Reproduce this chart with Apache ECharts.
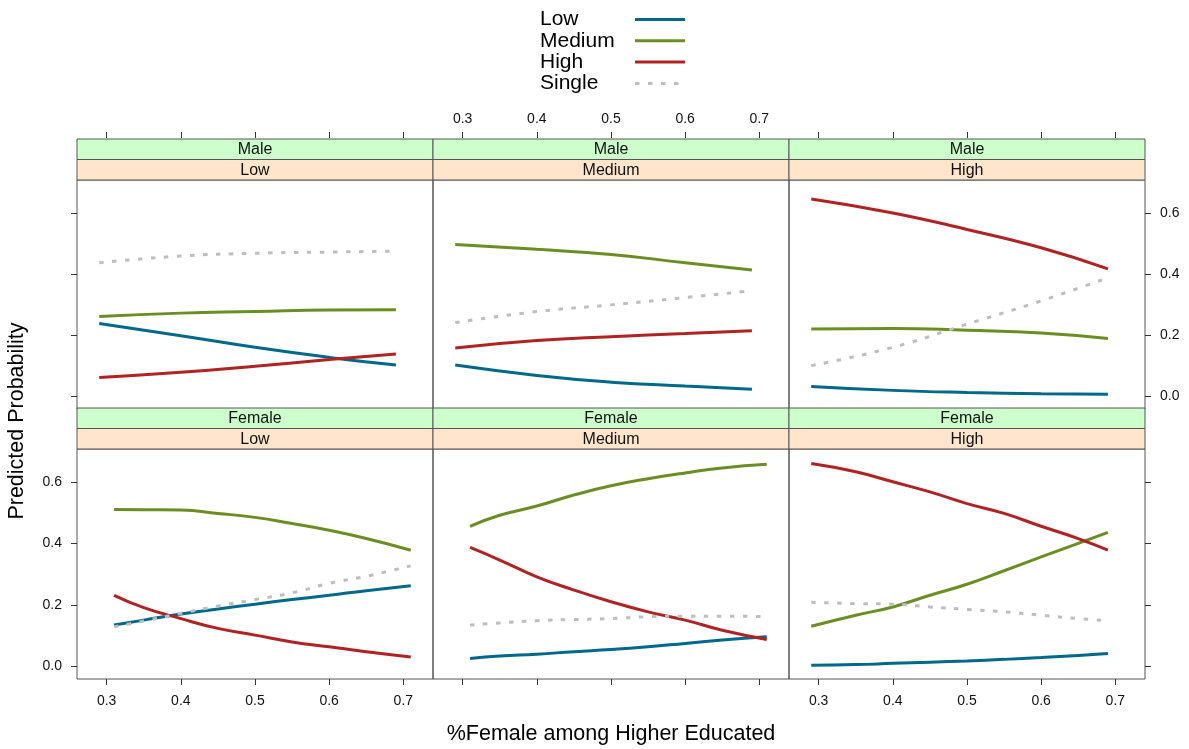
<!DOCTYPE html>
<html>
<head>
<meta charset="utf-8">
<title>Predicted Probability</title>
<script src="https://cdn.jsdelivr.net/npm/echarts@6/dist/echarts.min.js"></script>
<style>
  html, body { margin: 0; padding: 0; background: #fff; }
  #chart { width: 1189px; height: 749px; }
</style>
</head>
<body>
<div id="chart"></div>
<script>
// x positions (%Female among Higher Educated) where values were read
const xTopRow = [0.29, 0.4, 0.5, 0.6, 0.69]
const xFemaleLowMed = [0.31, 0.35, 0.4, 0.45, 0.5, 0.55, 0.6, 0.65, 0.71]
const xFemaleHigh = [0.29, 0.35, 0.4, 0.45, 0.5, 0.55, 0.6, 0.65, 0.69]

const seriesNames = ['Low', 'Medium', 'High', 'Single']
const xTicks = [0.3, 0.4, 0.5, 0.6, 0.7]
const yTicks = [0.0, 0.2, 0.4, 0.6]

// Male / Low
const maleLowLow = [0.238, 0.198, 0.160, 0.127, 0.102]
const maleLowMedium = [0.261, 0.272, 0.277, 0.282, 0.283]
const maleLowHigh = [0.061, 0.078, 0.098, 0.120, 0.138]
const maleLowSingle = [0.437, 0.459, 0.468, 0.472, 0.475]
// Male / Medium
const maleMedLow = [0.102, 0.068, 0.046, 0.033, 0.023]
const maleMedMedium = [0.497, 0.481, 0.464, 0.437, 0.413]
const maleMedHigh = [0.158, 0.182, 0.195, 0.205, 0.214]
const maleMedSingle = [0.241, 0.277, 0.299, 0.323, 0.345]
// Male / High
const maleHighLow = [0.032, 0.019, 0.012, 0.008, 0.006]
const maleHighMedium = [0.220, 0.222, 0.216, 0.207, 0.189]
const maleHighHigh = [0.646, 0.600, 0.546, 0.486, 0.417]
const maleHighSingle = [0.100, 0.160, 0.236, 0.312, 0.388]
// Female / Low
const femLowLow = [0.134, 0.150, 0.170, 0.186, 0.202, 0.217, 0.231, 0.246, 0.262]
const femLowMedium = [0.511, 0.510, 0.509, 0.498, 0.485, 0.465, 0.443, 0.416, 0.378]
const femLowHigh = [0.231, 0.191, 0.155, 0.123, 0.101, 0.079, 0.063, 0.047, 0.030]
const femLowSingle = [0.128, 0.147, 0.172, 0.196, 0.217, 0.239, 0.270, 0.293, 0.327]
// Female / Medium
const femMedLow = [0.025, 0.033, 0.039, 0.047, 0.054, 0.063, 0.074, 0.085, 0.096]
const femMedMedium = [0.456, 0.492, 0.522, 0.558, 0.588, 0.611, 0.630, 0.646, 0.658]
const femMedHigh = [0.387, 0.346, 0.291, 0.248, 0.210, 0.177, 0.150, 0.117, 0.087]
const femMedSingle = [0.134, 0.141, 0.148, 0.152, 0.155, 0.161, 0.163, 0.163, 0.161]
// Female / High
const femHighLow = [0.003, 0.005, 0.009, 0.013, 0.017, 0.022, 0.028, 0.035, 0.041]
const femHighMedium = [0.130, 0.166, 0.193, 0.231, 0.267, 0.311, 0.356, 0.400, 0.436]
const femHighHigh = [0.661, 0.634, 0.601, 0.568, 0.530, 0.498, 0.456, 0.416, 0.378]
const femHighSingle = [0.208, 0.204, 0.202, 0.193, 0.185, 0.177, 0.166, 0.155, 0.148]

const panels = [
  { gender: 'Male', edu: 'Low', row: 0, col: 0, x: xTopRow, ys: [maleLowLow, maleLowMedium, maleLowHigh, maleLowSingle] },
  { gender: 'Male', edu: 'Medium', row: 0, col: 1, x: xTopRow, ys: [maleMedLow, maleMedMedium, maleMedHigh, maleMedSingle] },
  { gender: 'Male', edu: 'High', row: 0, col: 2, x: xTopRow, ys: [maleHighLow, maleHighMedium, maleHighHigh, maleHighSingle] },
  { gender: 'Female', edu: 'Low', row: 1, col: 0, x: xFemaleLowMed, ys: [femLowLow, femLowMedium, femLowHigh, femLowSingle] },
  { gender: 'Female', edu: 'Medium', row: 1, col: 1, x: xFemaleLowMed, ys: [femMedLow, femMedMedium, femMedHigh, femMedSingle] },
  { gender: 'Female', edu: 'High', row: 1, col: 2, x: xFemaleHigh, ys: [femHighLow, femHighMedium, femHighHigh, femHighSingle] }
]

const colors = ['#00688B', '#6B8E23', '#B22222', '#BEBEBE']
const lineTypes = ['solid', 'solid', 'solid', [4.5, 8.5]]

// layout (px)
const colLeft = [77, 433, 789]
const panelW = 356
const plotTop = [180, 449]
const plotH = [229, 230]
const stripH = 20.5
const border = '#555'
const font = 'Liberation Sans, Arial, sans-serif'

const chart = echarts.init(document.getElementById('chart'))

const grids = []
const xAxes = []
const yAxes = []
const series = []
const graphics = []

panels.forEach((p, i) => {
  grids.push({
    left: colLeft[p.col], top: plotTop[p.row], width: panelW, height: plotH[p.row],
    show: true, borderColor: border, borderWidth: 1, backgroundColor: 'transparent'
  })

  // lattice style alternating axes
  const xLabels = (p.row === 0 && p.col === 1) || (p.row === 1 && p.col !== 1)
  xAxes.push({
    type: 'value', gridIndex: i, min: 0.26, max: 0.74,
    position: p.row === 0 ? 'top' : 'bottom',
    offset: p.row === 0 ? 2 * stripH + 1 : 0,
    axisLine: { show: false, onZero: false },
    splitLine: { show: false },
    axisTick: { show: true, length: 6, inside: false, customValues: xTicks, lineStyle: { color: '#333' } },
    axisLabel: {
      show: xLabels, customValues: xTicks, margin: p.row === 0 ? 12 : 15,
      color: '#111', fontSize: 14, fontFamily: font,
      formatter: v => v.toFixed(1)
    }
  })

  const yTicksOn = p.col !== 1
  const yLabels = (p.col === 0 && p.row === 1) || (p.col === 2 && p.row === 0)
  yAxes.push({
    type: 'value', gridIndex: i, min: -0.042, max: 0.708,
    position: p.col === 2 ? 'right' : 'left',
    axisLine: { show: false, onZero: false },
    splitLine: { show: false },
    axisTick: { show: yTicksOn, length: 6, inside: false, customValues: yTicks, lineStyle: { color: '#333' } },
    axisLabel: {
      show: yLabels, customValues: yTicks, margin: 15,
      color: '#111', fontSize: 14, fontFamily: font,
      formatter: v => v.toFixed(1)
    }
  })

  p.ys.forEach((vals, k) => {
    series.push({
      name: seriesNames[k],
      type: 'line',
      xAxisIndex: i,
      yAxisIndex: i,
      data: p.x.map((xv, j) => [xv, vals[j]]),
      symbol: 'none',
      smooth: true,
      silent: true,
      lineStyle: { color: colors[k], width: 3, type: lineTypes[k], cap: 'butt' },
      itemStyle: { color: colors[k] },
      z: 2 + k
    })
  })

  // strips
  const sTop = plotTop[p.row] - 2 * stripH
  graphics.push({
    type: 'rect', shape: { x: colLeft[p.col], y: sTop, width: panelW, height: stripH },
    style: { fill: '#CCFFCC', stroke: border, lineWidth: 1 }, z: 10
  })
  graphics.push({
    type: 'rect', shape: { x: colLeft[p.col], y: sTop + stripH, width: panelW, height: stripH },
    style: { fill: '#FFE5CC', stroke: border, lineWidth: 1 }, z: 10
  })
  graphics.push({
    type: 'text', x: colLeft[p.col] + panelW / 2, y: sTop + stripH / 2 + 0.5,
    style: { text: p.gender, fill: '#111', font: '16px ' + font, align: 'center', verticalAlign: 'middle' }, z: 11
  })
  graphics.push({
    type: 'text', x: colLeft[p.col] + panelW / 2, y: sTop + stripH * 1.5 + 0.5,
    style: { text: p.edu, fill: '#111', font: '16px ' + font, align: 'center', verticalAlign: 'middle' }, z: 11
  })
})

// axis titles
graphics.push({
  type: 'text', x: 611, y: 734,
  style: { text: '%Female among Higher Educated', fill: '#000', font: '21.5px ' + font, align: 'center', verticalAlign: 'middle' }
})
graphics.push({
  type: 'text', x: 17, y: 421, rotation: Math.PI / 2,
  style: { text: 'Predicted Probability', fill: '#000', font: '21.5px ' + font, align: 'center', verticalAlign: 'middle' }
})

const option = {
  animation: false,
  backgroundColor: '#fff',
  legend: {
    data: seriesNames,
    orient: 'vertical',
    left: 535,
    top: 4,
    align: 'right',
    itemWidth: 50,
    itemHeight: 14,
    itemGap: 0.3,
    selectedMode: false,
    itemStyle: { opacity: 0 },
    lineStyle: { width: 3 },
    formatter: name => '{n|' + name + '}',
    textStyle: {
      rich: { n: { width: 90, align: 'left', fontSize: 21, lineHeight: 22, fontFamily: font, color: '#000' } }
    }
  },
  grid: grids,
  xAxis: xAxes,
  yAxis: yAxes,
  series: series,
  graphic: graphics
}

chart.setOption(option)
</script>
</body>
</html>
